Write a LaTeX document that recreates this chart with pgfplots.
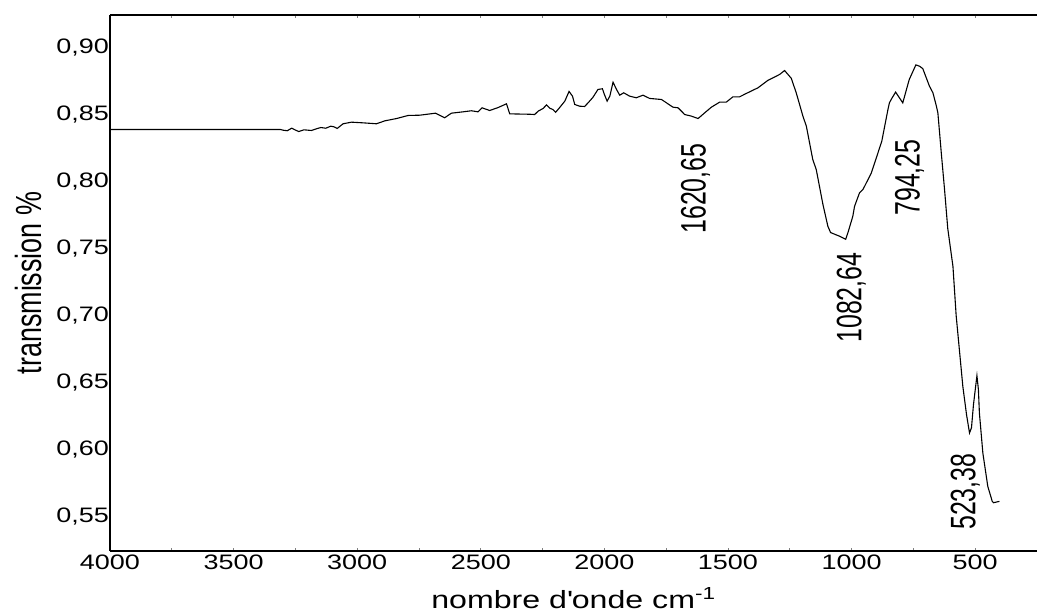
\documentclass[border=0pt]{standalone}
\usepackage{fontspec}
\setmainfont{Liberation Sans}[FakeStretch=1.29]
\newfontfamily\rotfont{Liberation Sans}
\usepackage{graphicx}
\usepackage{pgfplots}
\pgfplotsset{compat=1.18}
\begin{document}
\begin{tikzpicture}
\begin{axis}[
  scale only axis,
  width=927bp, height=536bp,
  x dir=reverse,
  xmin=250, xmax=4000,
  ymin=0.5246, ymax=0.9242,
  axis x line*=box,
  axis y line*=left,
  axis line style={line width=2bp, black},
  xtick={500,1000,1500,2000,2500,3000,3500,4000},
  xticklabels={500,1000,1500,2000,2500,3000,3500,4000},
  minor x tick num=1,
  ytick={0.55,0.6,0.65,0.7,0.75,0.8,0.85,0.9},
  yticklabels={{0,55},{0,60},{0,65},{0,70},{0,75},{0,80},{0,85},{0,90}},
  x tick style={gray, line width=0.8bp},
  major tick length=3bp, minor tick length=3bp,
  tick align=inside,
  y tick style={draw=none},
  xticklabel style={font=\fontsize{21}{25}\selectfont, inner sep=0pt, yshift=-4bp},
  yticklabel style={font=\fontsize{21}{25}\selectfont, inner sep=0pt, xshift=-1bp},
  xlabel={\fontsize{25}{30}\selectfont nombre d\textquotesingle onde cm\textsuperscript{-1}},
  xlabel style={at={(axis description cs:0.5,0)}, anchor=base, yshift=-57bp, inner sep=0pt},
  ylabel={\scalebox{1}[1.35]{\rotfont\fontsize{27}{32}\selectfont transmission \%}},
  ylabel style={at={(axis description cs:-0.0744,0.5)}, anchor=base, inner sep=0pt},
  clip=false,
]
\addplot[black, line width=1.1bp] coordinates {
(4000,0.8388) (3310,0.8388) (3299,0.8383) (3283,0.8379) (3265,0.8398) (3252,0.8386)
(3236,0.8373) (3216,0.8386) (3185,0.8381) (3164,0.8394) (3147,0.8403) (3127,0.8398)
(3107,0.8413) (3093,0.8408) (3081,0.8396) (3057,0.8431) (3023,0.8443) (2976,0.8438)
(2922,0.8431) (2888,0.8453) (2841,0.8470) (2794,0.8493) (2747,0.8495) (2683,0.8510)
(2646,0.8476) (2619,0.8510) (2572,0.8520) (2538,0.8528) (2511,0.8520) (2495,0.8550)
(2464,0.8530) (2430,0.8552) (2396,0.8580) (2383,0.8505) (2302,0.8502) (2282,0.8500)
(2268,0.8525) (2248,0.8545) (2234,0.8572) (2221,0.8547) (2208,0.8537) (2197,0.8517)
(2181,0.8552) (2160,0.8600) (2143,0.8672) (2129,0.8637) (2120,0.8575) (2100,0.8562)
(2080,0.8560) (2066,0.8587) (2046,0.8629) (2026,0.8687) (2008,0.8692) (2001,0.8654)
(1989,0.8600) (1978,0.8637) (1965,0.8741) (1951,0.8687) (1938,0.8644) (1922,0.8662)
(1898,0.8637) (1871,0.8625) (1844,0.8644) (1817,0.8620) (1769,0.8612) (1743,0.8580)
(1723,0.8555) (1702,0.8550) (1675,0.8500) (1648,0.8488) (1621,0.8470) (1594,0.8513)
(1567,0.8555) (1534,0.8592) (1507,0.8592) (1480,0.8632) (1453,0.8632) (1426,0.8657)
(1379,0.8699) (1339,0.8754) (1291,0.8799) (1271,0.8828) (1244,0.8770) (1224,0.8662)
(1197,0.8488) (1183,0.8413) (1157,0.8164) (1143,0.8090) (1116,0.7830) (1096,0.7667)
(1085,0.7620) (1049,0.7593) (1024,0.7570) (1015,0.7618) (995,0.7742) (988,0.7816)
(968,0.7916) (954,0.7941) (920,0.8065) (878,0.8300) (853,0.8537) (847,0.8587)
(840,0.8612) (822,0.8667) (793,0.8587) (767,0.8760) (740,0.8870) (725,0.8860)
(712,0.8842) (685,0.8711) (671,0.8662) (658,0.8570) (651,0.8513) (637,0.8210)
(624,0.7941) (611,0.7650) (590,0.7368) (577,0.7001) (550,0.6473) (535,0.6262)
(523,0.6126) (515,0.6165) (507,0.6337) (493,0.6553) (487,0.6449) (483,0.6275)
(469,0.5976) (449,0.5727) (431,0.5616) (426,0.5606) (402,0.5616)
};
\node[rotate=90, anchor=base, inner sep=0pt] at (axis cs:1590,0.7948) {\scalebox{1}[1.42]{\rotfont\fontsize{25}{30}\selectfont 1620,65}};
\node[rotate=90, anchor=base, inner sep=0pt] at (axis cs:960,0.7135) {\scalebox{1}[1.42]{\rotfont\fontsize{25}{30}\selectfont 1082,64}};
\node[rotate=90, anchor=base, inner sep=0pt] at (axis cs:725,0.8030) {\scalebox{1}[1.42]{\rotfont\fontsize{25}{30}\selectfont 794,25}};
\node[rotate=90, anchor=base, inner sep=0pt] at (axis cs:499,0.5688) {\scalebox{1}[1.42]{\rotfont\fontsize{25}{30}\selectfont 523,38}};
\end{axis}
\pgfresetboundingbox
\path[use as bounding box] (-110bp,-62bp) rectangle (927bp,551bp);
\end{tikzpicture}
\end{document}
